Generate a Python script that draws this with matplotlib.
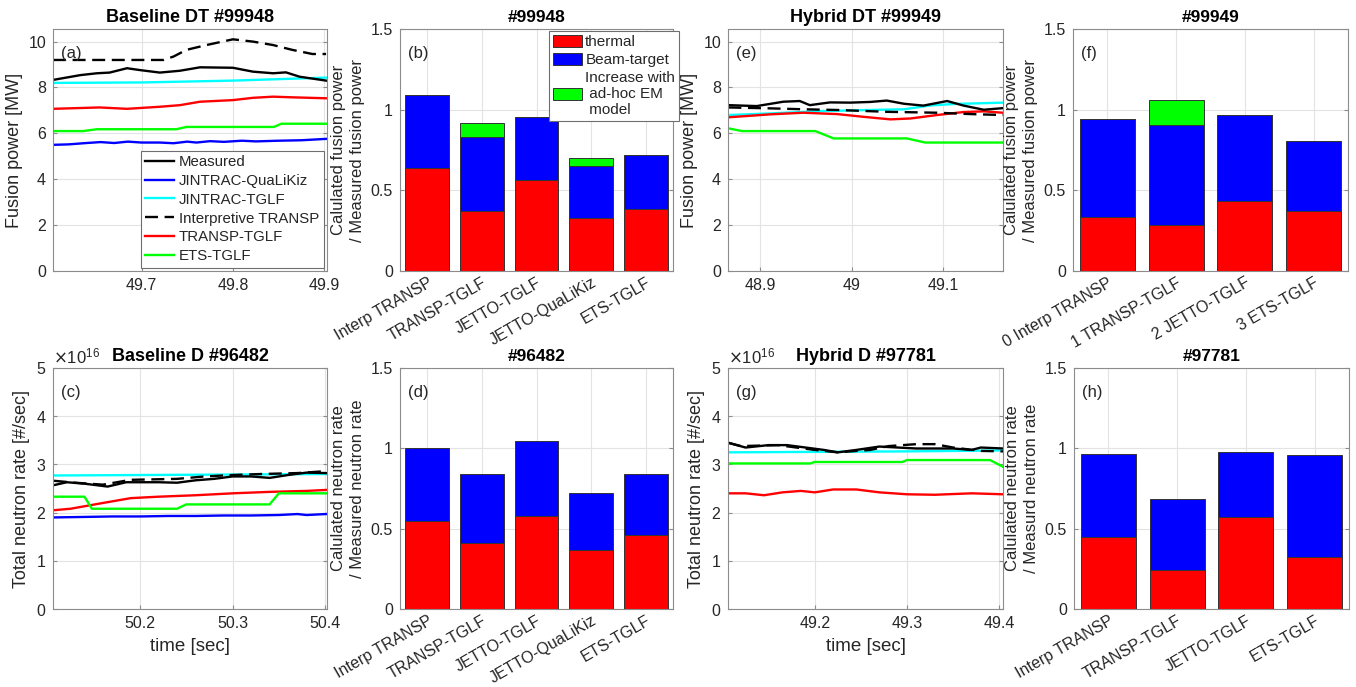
import matplotlib
matplotlib.use('Agg')
import matplotlib.pyplot as plt
import numpy as np
from matplotlib.ticker import ScalarFormatter

plt.rcParams['font.family'] = ['Liberation Sans', 'DejaVu Sans']
TXT = '#262626'
plt.rcParams['text.color'] = TXT
plt.rcParams['axes.labelcolor'] = TXT
plt.rcParams['xtick.color'] = TXT
plt.rcParams['ytick.color'] = TXT

# ---------------- (a) Baseline DT #99948 : fusion power [MW] ----------------
a_t_meas = [49.603, 49.633, 49.651, 49.665, 49.684, 49.698, 49.72, 49.742, 49.764, 49.8, 49.822, 49.844, 49.858, 49.873, 49.902]
a_meas = [8.33, 8.54, 8.62, 8.65, 8.84, 8.76, 8.65, 8.73, 8.88, 8.86, 8.69, 8.62, 8.66, 8.47, 8.3]
a_t_interp = [49.603, 49.724, 49.735, 49.749, 49.771, 49.8, 49.822, 49.844, 49.865, 49.887, 49.902]
a_interp = [9.2, 9.2, 9.35, 9.64, 9.85, 10.1, 10.0, 9.85, 9.64, 9.46, 9.46]
a_t_jtglf = [49.603, 49.70, 49.80, 49.902]
a_jtglf = [8.2, 8.22, 8.3, 8.43]
a_t_ttglf = [49.603, 49.654, 49.684, 49.72, 49.742, 49.764, 49.8, 49.822, 49.844, 49.866, 49.902]
a_ttglf = [7.07, 7.13, 7.07, 7.16, 7.23, 7.38, 7.45, 7.55, 7.6, 7.57, 7.53]
a_t_ets = [49.603, 49.636, 49.651, 49.738, 49.749, 49.845, 49.853, 49.902]
a_ets = [6.1, 6.1, 6.18, 6.18, 6.28, 6.28, 6.42, 6.42]
a_t_qlk = [49.603, 49.62, 49.64, 49.655, 49.67, 49.685, 49.70, 49.72, 49.735, 49.75, 49.76, 49.775, 49.79, 49.81, 49.825, 49.85, 49.875, 49.902]
a_qlk = [5.5, 5.52, 5.58, 5.62, 5.58, 5.64, 5.6, 5.6, 5.57, 5.64, 5.6, 5.66, 5.63, 5.68, 5.65, 5.68, 5.7, 5.76]

# ---------------- (e) Hybrid DT #99949 ----------------
e_t_meas = [48.865, 48.896, 48.925, 48.943, 48.954, 48.976, 48.998, 49.02, 49.038, 49.057, 49.078, 49.104, 49.122, 49.144, 49.165]
e_meas = [7.23, 7.19, 7.38, 7.41, 7.23, 7.35, 7.34, 7.37, 7.43, 7.29, 7.21, 7.41, 7.21, 7.03, 7.1]
e_t_interp = [48.865, 48.911, 48.947, 48.984, 49.038, 49.093, 49.130, 49.165]
e_interp = [7.13, 7.09, 7.05, 7.02, 6.94, 6.9, 6.84, 6.8]
e_t_jtglf = [48.865, 48.911, 48.965, 49.02, 49.057, 49.086, 49.111, 49.165]
e_jtglf = [6.8, 6.87, 6.97, 7.02, 7.05, 7.22, 7.28, 7.34]
e_t_ttglf = [48.865, 48.911, 48.947, 48.984, 49.013, 49.042, 49.064, 49.093, 49.122, 49.144, 49.165]
e_ttglf = [6.7, 6.83, 6.9, 6.84, 6.72, 6.61, 6.65, 6.8, 6.93, 6.96, 6.9]
e_t_ets = [48.865, 48.88, 48.96, 48.98, 49.06, 49.08, 49.165]
e_ets = [6.22, 6.1, 6.1, 5.78, 5.78, 5.6, 5.6]

# ---------------- (c) Baseline D #96482 : neutron rate [1e16 /s] ----------------
c_t_meas = [50.107, 50.121, 50.14, 50.165, 50.185, 50.22, 50.24, 50.26, 50.28, 50.3, 50.32, 50.34, 50.36, 50.38, 50.401]
c_meas = [2.57, 2.63, 2.6, 2.54, 2.63, 2.63, 2.62, 2.67, 2.7, 2.75, 2.75, 2.72, 2.78, 2.83, 2.82]
c_t_interp = [50.107, 50.13, 50.16, 50.19, 50.24, 50.27, 50.3, 50.33, 50.37, 50.401]
c_interp = [2.66, 2.62, 2.58, 2.68, 2.7, 2.75, 2.78, 2.8, 2.82, 2.86]
c_t_jtglf = [50.107, 50.401]
c_jtglf = [2.77, 2.8]
c_t_ttglf = [50.107, 50.125, 50.16, 50.19, 50.22, 50.26, 50.3, 50.34, 50.38, 50.401]
c_ttglf = [2.05, 2.08, 2.2, 2.3, 2.33, 2.36, 2.4, 2.43, 2.45, 2.47]
c_t_ets = [50.107, 50.14, 50.148, 50.24, 50.25, 50.34, 50.35, 50.401]
c_ets = [2.33, 2.33, 2.08, 2.08, 2.17, 2.17, 2.4, 2.4]
c_t_qlk = [50.107, 50.14, 50.17, 50.2, 50.23, 50.26, 50.29, 50.32, 50.35, 50.37, 50.38, 50.401]
c_qlk = [1.9, 1.91, 1.92, 1.92, 1.93, 1.93, 1.94, 1.94, 1.95, 1.97, 1.95, 1.97]

# ---------------- (g) Hybrid D #97781 ----------------
g_t_meas = [49.106, 49.125, 49.15, 49.17, 49.19, 49.21, 49.225, 49.245, 49.27, 49.29, 49.31, 49.35, 49.37, 49.38, 49.404]
g_meas = [3.45, 3.35, 3.4, 3.4, 3.35, 3.3, 3.25, 3.3, 3.37, 3.35, 3.33, 3.33, 3.3, 3.35, 3.33]
g_t_interp = [49.106, 49.12, 49.16, 49.2, 49.225, 49.26, 49.28, 49.31, 49.33, 49.35, 49.38, 49.404]
g_interp = [3.45, 3.38, 3.4, 3.3, 3.25, 3.3, 3.38, 3.42, 3.42, 3.35, 3.28, 3.27]
g_t_jtglf = [49.106, 49.3, 49.404]
g_jtglf = [3.25, 3.27, 3.29]
g_t_ttglf = [49.106, 49.125, 49.145, 49.165, 49.185, 49.2, 49.22, 49.245, 49.27, 49.3, 49.33, 49.37, 49.404]
g_ttglf = [2.4, 2.4, 2.36, 2.42, 2.45, 2.42, 2.48, 2.48, 2.42, 2.38, 2.37, 2.4, 2.38]
g_t_ets = [49.106, 49.195, 49.2, 49.295, 49.3, 49.39, 49.404]
g_ets = [3.02, 3.02, 3.05, 3.05, 3.09, 3.09, 2.95]

# ---------------- bar charts ----------------
b_cats = ['Interp TRANSP', 'TRANSP-TGLF', 'JETTO-TGLF', 'JETTO-QuaLiKiz', 'ETS-TGLF']
b_thermal = [0.636, 0.373, 0.566, 0.329, 0.383]
b_beam = [0.456, 0.460, 0.391, 0.321, 0.338]
b_em = [0.0, 0.083, 0.0, 0.048, 0.0]

d_cats = ['Interp TRANSP', 'TRANSP-TGLF', 'JETTO-TGLF', 'JETTO-QuaLiKiz', 'ETS-TGLF']
d_thermal = [0.548, 0.409, 0.577, 0.368, 0.463]
d_beam = [0.451, 0.434, 0.466, 0.351, 0.378]

f_cats = ['0 Interp TRANSP', '1 TRANSP-TGLF', '2 JETTO-TGLF', '3 ETS-TGLF']
f_thermal = [0.336, 0.284, 0.435, 0.373]
f_beam = [0.605, 0.619, 0.531, 0.431]
f_em = [0.0, 0.154, 0.0, 0.0]

h_cats = ['Interp TRANSP', 'TRANSP-TGLF', 'JETTO-TGLF', 'ETS-TGLF']
h_thermal = [0.449, 0.241, 0.571, 0.326]
h_beam = [0.517, 0.442, 0.409, 0.634]

# ---------------- figure ----------------
W, H = 1356, 687
fig = plt.figure(figsize=(W / 100, H / 100), dpi=100)


def px_axes(l, t, r, b):
    return fig.add_axes([l / W, 1 - b / H, (r - l) / W, (b - t) / H])


SPINE = '#8c8c8c'
GRID = '#e3e3e3'


def style(ax):
    ax.grid(True, color=GRID, lw=0.8)
    ax.set_axisbelow(True)
    for s in ax.spines.values():
        s.set_color(SPINE)
        s.set_linewidth(0.8)
    ax.tick_params(direction='in', length=3, labelsize=11.5, color=SPINE,
                   labelcolor=TXT, right=True, top=False, pad=5)


LW = 1.7
C_MEAS = 'black'
C_QLK = '#0000ff'
C_JT = '#00ffff'
C_TT = '#ff0000'
C_ETS = '#00ff00'


def line_panel(ax, series, ylim, xlim, xticks, yticks, title, tag, ylabel, xlabel=None):
    handles = {}
    for key, t, v, kw in series:
        h, = ax.plot(t, v, **kw)
        handles[key] = h
    ax.set_xlim(*xlim)
    ax.set_ylim(*ylim)
    ax.set_xticks(xticks)
    ax.set_yticks(yticks)
    style(ax)
    ax.set_title(title, fontsize=13, fontweight='bold', color='black', pad=5)
    ax.set_ylabel(ylabel, fontsize=13, labelpad=4)
    if xlabel:
        ax.set_xlabel(xlabel, fontsize=13.5, labelpad=5)
    ax.text(0.03, 0.90, tag, transform=ax.transAxes, fontsize=12, va='center', ha='left')
    return handles


def kw(c, label, dashed=False):
    d = dict(color=c, lw=LW, label=label, solid_joinstyle='round')
    if dashed:
        d['dashes'] = (5.5, 2.8)
    return d


# (a)
axa = px_axes(53, 29, 327, 271)
ha = line_panel(axa, [
    ('jt', a_t_jtglf, a_jtglf, kw(C_JT, 'JINTRAC-TGLF')),
    ('qlk', a_t_qlk, a_qlk, kw(C_QLK, 'JINTRAC-QuaLiKiz')),
    ('tt', a_t_ttglf, a_ttglf, kw(C_TT, 'TRANSP-TGLF')),
    ('ets', a_t_ets, a_ets, kw(C_ETS, 'ETS-TGLF')),
    ('meas', a_t_meas, a_meas, kw(C_MEAS, 'Measured')),
    ('interp', a_t_interp, a_interp, kw(C_MEAS, 'Interpretive TRANSP', True)),
], (0, 10.55), (49.603, 49.903), [49.7, 49.8, 49.9], [0, 2, 4, 6, 8, 10],
    'Baseline DT #99948', '(a)', 'Fusion power [MW]')
order = ['meas', 'qlk', 'jt', 'interp', 'tt', 'ets']
leg = axa.legend([ha[k] for k in order], [ha[k].get_label() for k in order],
                 loc='lower right', bbox_to_anchor=(0.988, 0.014), fontsize=10.8,
                 handlelength=1.9, handletextpad=0.35, labelspacing=0.32,
                 borderpad=0.3, borderaxespad=0.0, fancybox=False, framealpha=1)
leg.get_frame().set_edgecolor('#6e6e6e')
leg.get_frame().set_linewidth(0.8)

# (e)
axe = px_axes(728, 29, 1003, 271)
line_panel(axe, [
    ('jt', e_t_jtglf, e_jtglf, kw(C_JT, 'JINTRAC-TGLF')),
    ('tt', e_t_ttglf, e_ttglf, kw(C_TT, 'TRANSP-TGLF')),
    ('ets', e_t_ets, e_ets, kw(C_ETS, 'ETS-TGLF')),
    ('meas', e_t_meas, e_meas, kw(C_MEAS, 'Measured')),
    ('interp', e_t_interp, e_interp, kw(C_MEAS, 'Interpretive TRANSP', True)),
], (0, 10.55), (48.8646, 49.165), [48.9, 49.0, 49.1], [0, 2, 4, 6, 8, 10],
    'Hybrid DT #99949', '(e)', 'Fusion power [MW]')
axe.set_xticklabels(['48.9', '49', '49.1'])

SC = 1e16
# (c)
axc = px_axes(53, 368, 327, 609)
line_panel(axc, [
    ('jt', c_t_jtglf, np.array(c_jtglf) * SC, kw(C_JT, 'JINTRAC-TGLF')),
    ('qlk', c_t_qlk, np.array(c_qlk) * SC, kw(C_QLK, 'JINTRAC-QuaLiKiz')),
    ('tt', c_t_ttglf, np.array(c_ttglf) * SC, kw(C_TT, 'TRANSP-TGLF')),
    ('ets', c_t_ets, np.array(c_ets) * SC, kw(C_ETS, 'ETS-TGLF')),
    ('meas', c_t_meas, np.array(c_meas) * SC, kw(C_MEAS, 'Measured')),
    ('interp', c_t_interp, np.array(c_interp) * SC, kw(C_MEAS, 'Interpretive TRANSP', True)),
], (0, 5 * SC), (50.106, 50.402), [50.2, 50.3, 50.4], np.arange(6) * SC,
    'Baseline D #96482', '(c)', 'Total neutron rate [#/sec]', 'time [sec]')

# (g)
axg = px_axes(728, 368, 1003, 609)
line_panel(axg, [
    ('jt', g_t_jtglf, np.array(g_jtglf) * SC, kw(C_JT, 'JINTRAC-TGLF')),
    ('tt', g_t_ttglf, np.array(g_ttglf) * SC, kw(C_TT, 'TRANSP-TGLF')),
    ('ets', g_t_ets, np.array(g_ets) * SC, kw(C_ETS, 'ETS-TGLF')),
    ('meas', g_t_meas, np.array(g_meas) * SC, kw(C_MEAS, 'Measured')),
    ('interp', g_t_interp, np.array(g_interp) * SC, kw(C_MEAS, 'Interpretive TRANSP', True)),
], (0, 5 * SC), (49.106, 49.404), [49.2, 49.3, 49.4], np.arange(6) * SC,
    'Hybrid D #97781', '(g)', 'Total neutron rate [#/sec]', 'time [sec]')

for ax in (axc, axg):
    fmt = ScalarFormatter(useMathText=True)
    fmt.set_powerlimits((0, 0))
    ax.yaxis.set_major_formatter(fmt)
    ax.yaxis.get_offset_text().set_fontsize(12)


def bar_panel(ax, cats, thermal, beam, em, title, tag, ylabel):
    x = np.arange(len(cats))
    th = np.array(thermal)
    bm = np.array(beam)
    ekw = dict(width=0.8, edgecolor='#333333', linewidth=0.7)
    h1 = ax.bar(x, th, color='#ff0000', label='thermal', **ekw)
    h2 = ax.bar(x, bm, bottom=th, color='#0000ff', label='Beam-target', **ekw)
    h3 = None
    if em is not None:
        h3 = ax.bar(x, em, bottom=th + bm, color='#00ff00',
                    label='Increase with\n ad-hoc EM\n model', **ekw)
    ax.set_xlim(-0.5, len(cats) - 0.5)
    ax.set_ylim(0, 1.5)
    ax.set_yticks([0, 0.5, 1, 1.5])
    ax.set_yticklabels(['0', '0.5', '1', '1.5'])
    ax.set_xticks(x)
    ax.set_xticklabels(cats, rotation=30, ha='right', rotation_mode='anchor', fontsize=10.8)
    style(ax)
    ax.tick_params(axis='x', pad=3)
    ax.set_title(title, fontsize=12.5, fontweight='bold', color='black', pad=5)
    ax.set_ylabel(ylabel, fontsize=12, labelpad=4, linespacing=1.35)
    ax.text(0.03, 0.90, tag, transform=ax.transAxes, fontsize=12, va='center', ha='left')
    return h1, h2, h3


axb = px_axes(400, 29, 673, 271)
h1, h2, h3 = bar_panel(axb, b_cats, b_thermal, b_beam, b_em, '#99948', '(b)',
                       'Calulated fusion power\n/ Measured fusion power')
lb = axb.legend([h1, h2, h3], [h1.get_label(), h2.get_label(), h3.get_label()],
                loc='upper right', bbox_to_anchor=(1.022, 0.993), fontsize=11,
                handlelength=1.9, handleheight=0.85, handletextpad=0.2,
                labelspacing=0.25, borderpad=0.25, borderaxespad=0.0,
                fancybox=False, framealpha=1)
lb.get_frame().set_edgecolor('#6e6e6e')
lb.get_frame().set_linewidth(0.8)

axd = px_axes(400, 368, 673, 609)
bar_panel(axd, d_cats, d_thermal, d_beam, None, '#96482', '(d)',
          'Calulated neutron rate\n/ Measured neutron rate')

axf = px_axes(1073, 29, 1348, 271)
bar_panel(axf, f_cats, f_thermal, f_beam, f_em, '#99949', '(f)',
          'Calulated fusion power\n/ Measured fusion power')

axh = px_axes(1074, 368, 1349, 609)
bar_panel(axh, h_cats, h_thermal, h_beam, None, '#97781', '(h)',
          'Calulated neutron rate\n/ Measurd neutron rate')

fig.savefig('out.png', dpi=100, facecolor='white')
